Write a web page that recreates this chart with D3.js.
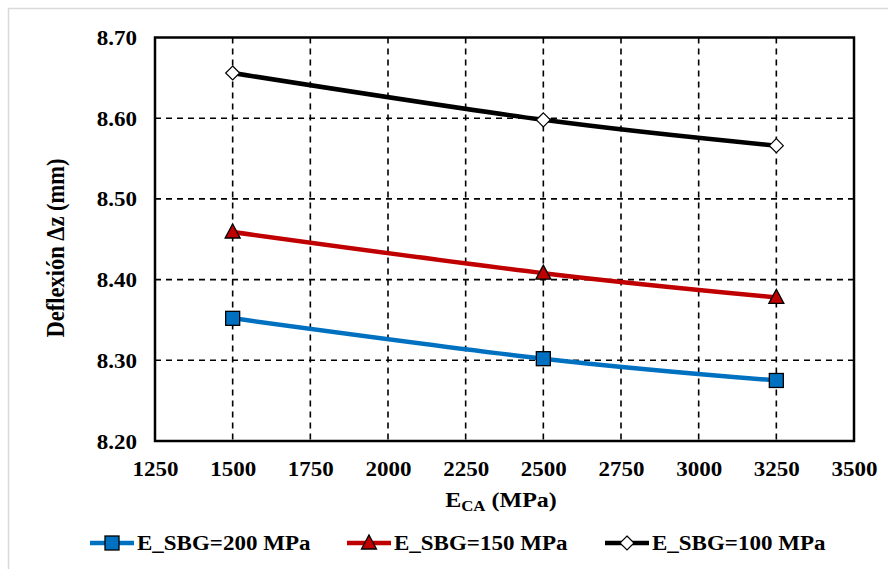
<!DOCTYPE html>
<html><head><meta charset="utf-8">
<script src="https://cdn.jsdelivr.net/npm/d3@7"></script>
<style>body{margin:0;background:#fff}svg{display:block}</style>
</head><body><svg id="c" width="888" height="569"></svg>
<script>
const xValues = [1500, 2500, 3250];
const s200 = [8.352, 8.302, 8.275];
const s150 = [8.459, 8.408, 8.378];
const s100 = [8.656, 8.598, 8.566];
const seriesNames = ["E_SBG=200 MPa", "E_SBG=150 MPa", "E_SBG=100 MPa"];
const seriesColors = ["#0070C0", "#C00000", "#000000"];
const seriesMarkers = ["square", "triangle", "diamond"];
const xTicks = [1250, 1500, 1750, 2000, 2250, 2500, 2750, 3000, 3250, 3500];
const yTicks = [8.20, 8.30, 8.40, 8.50, 8.60, 8.70];

const FONT = "Liberation Serif";
const svg = d3.select("#c");
svg.append("rect").attr("x",8.5).attr("y",8.5).attr("width",900).attr("height",600)
  .attr("fill","none").attr("stroke","#d9d9d9").attr("stroke-width",1.5);

const L=155, R=854, T=37.5, B=441;
const x = d3.scaleLinear().domain([1250,3500]).range([L,R]);
const y = d3.scaleLinear().domain([8.2,8.7]).range([B,T]);

const g = svg.append("g");
g.selectAll(".gx").data(xTicks.slice(1,-1)).join("line")
  .attr("x1",d=>x(d)).attr("x2",d=>x(d)).attr("y1",T).attr("y2",B)
  .attr("stroke","#000").attr("stroke-width",1.6).attr("stroke-dasharray","6,5");
g.selectAll(".gy").data(yTicks.slice(1,-1)).join("line")
  .attr("y1",d=>y(d)).attr("y2",d=>y(d)).attr("x1",L).attr("x2",R)
  .attr("stroke","#000").attr("stroke-width",1.6).attr("stroke-dasharray","6,5");

const SX = 1.15;
const xAxis = d3.axisBottom(x).tickValues(xTicks).tickFormat(d3.format("d")).tickSize(0).tickPadding(0);
const xa = svg.append("g").attr("transform",`translate(0,${B})`).call(xAxis)
  .attr("font-family",FONT).attr("font-weight","bold").attr("font-size",20);
xa.select(".domain").remove();
xa.selectAll("text").attr("dy",0).attr("y",0).attr("fill","#000")
  .attr("transform",`translate(0,35) scale(${SX},1)`);
const yAxis = d3.axisLeft(y).tickValues(yTicks).tickFormat(d3.format(".2f")).tickSize(0).tickPadding(0);
const ya = svg.append("g").attr("transform",`translate(${L},0)`).call(yAxis)
  .attr("font-family",FONT).attr("font-weight","bold").attr("font-size",20);
ya.select(".domain").remove();
ya.selectAll("text").attr("x",0).attr("dy","0.35em").attr("fill","#000")
  .attr("transform",`translate(-18,0) scale(${SX},1)`);

svg.append("rect").attr("x",L).attr("y",T).attr("width",R-L).attr("height",B-T)
  .attr("fill","none").attr("stroke","#000").attr("stroke-width",2.5);

const data = [s200, s150, s100];
const line = d3.line().x((d,i)=>x(xValues[i])).y(d=>y(d)).curve(d3.curveCardinal.tension(0));
function marker(sel, type, color, cx, cy){
  if(type==="square"){
    sel.append("rect").attr("x",cx-7).attr("y",cy-7).attr("width",14).attr("height",14)
      .attr("fill",color).attr("stroke","#000").attr("stroke-width",1.3);
  } else if(type==="triangle"){
    sel.append("path").attr("d",`M${cx},${cy-8}L${cx+7.5},${cy+6}L${cx-7.5},${cy+6}Z`)
      .attr("fill",color).attr("stroke","#000").attr("stroke-width",1.3);
  } else {
    sel.append("path").attr("d",`M${cx},${cy-7}L${cx+7},${cy}L${cx},${cy+7}L${cx-7},${cy}Z`)
      .attr("fill","#fff").attr("stroke","#000").attr("stroke-width",1.2);
  }
}
data.forEach((vals,k)=>{
  svg.append("path").datum(vals).attr("d",line).attr("fill","none")
    .attr("stroke",seriesColors[k]).attr("stroke-width",4.5);
  const mg = svg.append("g");
  vals.forEach((v,i)=>marker(mg, seriesMarkers[k], seriesColors[k], x(xValues[i]), y(v)));
});

const xt = svg.append("text").attr("transform","translate(501,507) scale(1.2,1)").attr("text-anchor","middle")
  .attr("font-family",FONT).attr("font-weight","bold").attr("font-size",20).attr("fill","#000");
xt.append("tspan").text("E");
xt.append("tspan").text("CA").attr("font-size",14).attr("dy",4);
xt.append("tspan").text(" (MPa)").attr("dy",-4);
svg.append("text").attr("transform","translate(64,248) rotate(-90) scale(1,1.12)").attr("text-anchor","middle")
  .attr("font-family",FONT).attr("font-weight","bold").attr("font-size",22.5).attr("fill","#000")
  .text("Deflexión Δz (mm)");

const legX = [90, 347, 605];
const legY = 543;
seriesNames.forEach((n,k)=>{
  const lg = svg.append("g");
  lg.append("line").attr("x1",legX[k]).attr("x2",legX[k]+44).attr("y1",legY).attr("y2",legY)
    .attr("stroke",seriesColors[k]).attr("stroke-width",4.5);
  marker(lg, seriesMarkers[k], seriesColors[k], legX[k]+22, legY);
  lg.append("text").attr("transform",`translate(${legX[k]+47},${legY}) scale(1.15,1)`).attr("dy","0.35em")
    .attr("font-family",FONT).attr("font-weight","bold").attr("font-size",20).attr("fill","#000").text(n);
});
</script></body></html>
